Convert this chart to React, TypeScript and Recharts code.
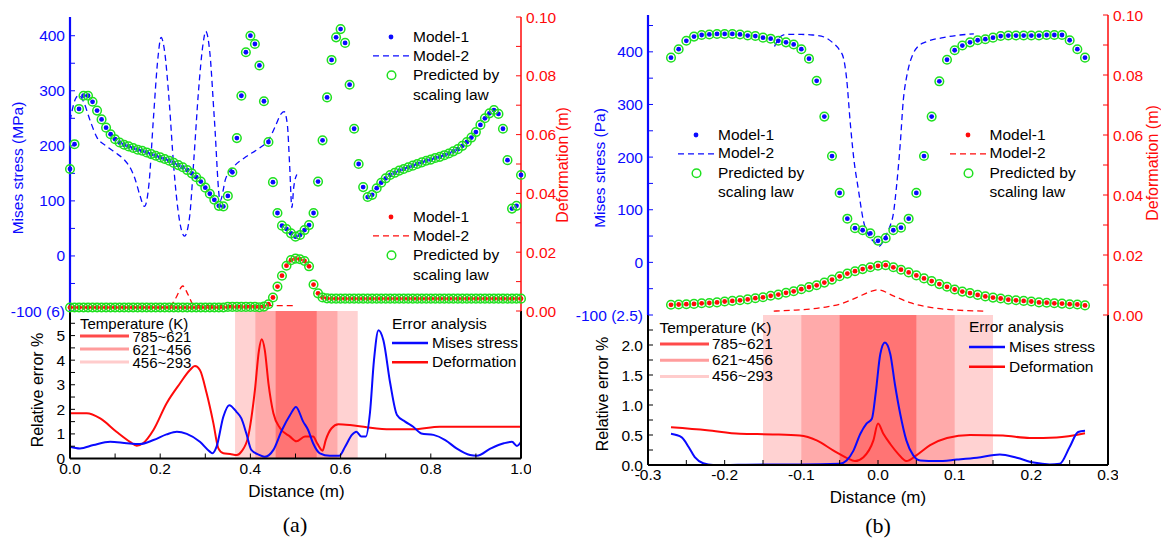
import { ComposedChart, Scatter, Line, XAxis, YAxis, ReferenceArea } from 'recharts'

const FONT = '"Liberation Sans", Arial, Helvetica, sans-serif'
const SERIF = '"Liberation Serif", "Times New Roman", serif'
const BLUE = '#0a0aff'
const RED = '#ff0a0a'
const GREEN = '#1fe01f'
const SHADES = ['#ffd2d2', '#ffaaaa', '#ff7474']

// ---- panel (a): distance 0..1 m, model points every 0.01 m
const A_X = Array.from({ length: 101 }, (_, i) => i / 100)
const A_STRESS = [
  158, 203, 267, 291, 291, 280, 264, 248, 233, 221,
  212, 206, 202, 199, 196, 193, 191, 188, 185, 182,
  179, 176, 173, 169, 165, 161, 156, 150, 143, 135,
  124, 113, 102, 91, 90, 109, 152, 214, 291, 370,
  400, 385, 346, 281, 207, 134, 78, 55, 49, 41,
  35, 38, 47, 56, 78, 135, 210, 288, 356, 397,
  412, 387, 311, 231, 167, 125, 107, 111, 123, 133,
  141, 147, 151, 155, 158, 161, 164, 167, 170, 173,
  175, 178, 180, 183, 186, 190, 194, 200, 207, 215,
  225, 238, 250, 259, 265, 258, 231, 174, 86, 91,
  147
]
const A_DEFORM = [
  0.0012, 0.0012, 0.0012, 0.0012, 0.0012, 0.0012, 0.0012, 0.0012, 0.0012, 0.0012,
  0.0012, 0.0012, 0.0012, 0.0012, 0.0012, 0.0012, 0.0012, 0.0012, 0.0012, 0.0012,
  0.0012, 0.0012, 0.0012, 0.0012, 0.0012, 0.0012, 0.0012, 0.0012, 0.0012, 0.0012,
  0.0012, 0.0012, 0.0012, 0.0012, 0.0012, 0.0014, 0.0014, 0.0014, 0.0014, 0.0014,
  0.0014, 0.0014, 0.0013, 0.0015, 0.0023, 0.0046, 0.0083, 0.012, 0.0154, 0.0173,
  0.0178, 0.0176, 0.017, 0.0152, 0.009, 0.006, 0.0046, 0.0043, 0.0042, 0.0042,
  0.0042, 0.0042, 0.0042, 0.0042, 0.0042, 0.0042, 0.0042, 0.0042, 0.0042, 0.0042,
  0.0042, 0.0042, 0.0042, 0.0042, 0.0042, 0.0042, 0.0042, 0.0042, 0.0042, 0.0042,
  0.0042, 0.0042, 0.0042, 0.0042, 0.0042, 0.0042, 0.0042, 0.0042, 0.0042, 0.0042,
  0.0042, 0.0042, 0.0042, 0.0042, 0.0042, 0.0042, 0.0042, 0.0042, 0.0042, 0.0042,
  0.0042
]
const A_M2_STRESS: [number, number][] = [
  [0, 245], [0.012, 285], [0.02, 292], [0.03, 280], [0.045, 245], [0.06, 215],
  [0.08, 200], [0.1, 188], [0.12, 175], [0.135, 158], [0.145, 138], [0.155, 110],
  [0.165, 90], [0.175, 130], [0.185, 250], [0.195, 360], [0.202, 397], [0.21, 370],
  [0.22, 280], [0.23, 162], [0.24, 80], [0.254, 36], [0.265, 70], [0.275, 180],
  [0.285, 300], [0.295, 385], [0.301, 408], [0.31, 370], [0.32, 250], [0.333, 100],
  [0.345, 140], [0.363, 162], [0.39, 180], [0.42, 196], [0.44, 210], [0.455, 235],
  [0.468, 258], [0.475, 262], [0.482, 238], [0.487, 165], [0.492, 88], [0.496, 124],
  [0.503, 148]
]
const A_M2_DEFORM: [number, number][] = [
  [0, 0.0012], [0.2, 0.0012], [0.22, 0.0014], [0.235, 0.0045], [0.25, 0.0085],
  [0.262, 0.0055], [0.275, 0.0019], [0.3, 0.0018], [0.4, 0.0018], [0.5, 0.0018]
]
const A_ERR_STRESS: [number, number][] = [
  [0, 0.48], [0.022, 0.41], [0.052, 0.55], [0.089, 0.68], [0.126, 0.62], [0.155, 0.59],
  [0.185, 0.75], [0.214, 0.98], [0.237, 1.09], [0.259, 1.0], [0.288, 0.68], [0.31, 0.28],
  [0.316, 0.21], [0.325, 0.48], [0.34, 1.7], [0.353, 2.17], [0.369, 1.9], [0.38, 1.63],
  [0.391, 1.02], [0.402, 0.35], [0.421, 0.14], [0.432, 0.07], [0.451, 0.35], [0.47, 1.16],
  [0.488, 1.77], [0.501, 2.1], [0.517, 1.5], [0.528, 1.16], [0.539, 0.62], [0.554, 0.21],
  [0.576, 0.11], [0.597, 0.11], [0.61, 0.48], [0.625, 0.96], [0.635, 1.09], [0.646, 0.89],
  [0.656, 0.89], [0.665, 1.84], [0.674, 4.0], [0.684, 5.22], [0.695, 4.8], [0.71, 3.06],
  [0.725, 1.77], [0.743, 1.5], [0.761, 1.29], [0.779, 1.02], [0.806, 0.96], [0.832, 0.75],
  [0.857, 0.41], [0.887, 0.14], [0.902, 0.11], [0.933, 0.41], [0.962, 0.62], [0.98, 0.68],
  [0.991, 0.51], [1.0, 0.68]
]
const A_ERR_DEFORM: [number, number][] = [
  [0, 1.84], [0.037, 1.84], [0.067, 1.63], [0.103, 1.09], [0.133, 0.68], [0.148, 0.52],
  [0.162, 0.62], [0.185, 1.16], [0.214, 2.24], [0.244, 3.06], [0.266, 3.6], [0.277, 3.76],
  [0.288, 3.6], [0.303, 2.65], [0.318, 1.43], [0.329, 0.41], [0.34, 0.21], [0.355, 0.18],
  [0.37, 0.14], [0.38, 0.28], [0.395, 0.89], [0.41, 2.78], [0.419, 4.4], [0.425, 4.85],
  [0.432, 4.4], [0.44, 3.06], [0.451, 1.84], [0.466, 1.23], [0.488, 0.89], [0.502, 0.7],
  [0.521, 0.89], [0.539, 0.89], [0.548, 0.62], [0.56, 0.32], [0.567, 0.75], [0.58, 1.23],
  [0.595, 1.39], [0.621, 1.36], [0.658, 1.27], [0.71, 1.19], [0.761, 1.19], [0.82, 1.29],
  [0.894, 1.29], [1.0, 1.29]
]
const A_BANDS: [number, number][] = [[0.366, 0.638], [0.411, 0.593], [0.456, 0.547]]

// ---- panel (b): distance -0.3..0.3 m, model points every 0.01 m
const B_X = Array.from({ length: 55 }, (_, i) => (i - 27) / 100)
const B_STRESS = [
  389, 405, 421, 429, 432, 433, 434, 434, 434, 433,
  431, 430, 427, 425, 421, 418, 414, 405, 387, 345,
  277, 202, 132, 83, 65, 61, 55, 41, 46, 61,
  66, 83, 132, 202, 277, 344, 385, 403, 412, 418,
  422, 424, 427, 430, 431, 431, 431, 431, 431, 432,
  432, 432, 422, 405, 389
]
const B_DEFORM = [
  0.0034, 0.0035, 0.0036, 0.0037, 0.0039, 0.004, 0.0042, 0.0045, 0.0047, 0.0049,
  0.0052, 0.0056, 0.0059, 0.0064, 0.0068, 0.0074, 0.0079, 0.0086, 0.0093, 0.0099,
  0.0108, 0.0118, 0.0129, 0.0138, 0.0146, 0.0153, 0.0159, 0.0164, 0.0166, 0.0159,
  0.0151, 0.0142, 0.0132, 0.0122, 0.0113, 0.0103, 0.0094, 0.0085, 0.0078, 0.0073,
  0.0067, 0.0062, 0.0058, 0.0055, 0.0051, 0.0049, 0.0047, 0.0045, 0.0042, 0.0041,
  0.0039, 0.0038, 0.0036, 0.0035, 0.0032
]
const B_M2_STRESS: [number, number][] = [
  [-0.135, 410], [-0.128, 428], [-0.12, 433], [-0.1, 433], [-0.085, 432], [-0.07, 428],
  [-0.058, 416], [-0.05, 403], [-0.045, 388], [-0.041, 350], [-0.036, 262], [-0.031, 190],
  [-0.026, 142], [-0.019, 79], [-0.01, 47], [-0.004, 38], [0.002, 31], [0.006, 38],
  [0.011, 53], [0.016, 70], [0.02, 92], [0.024, 142], [0.029, 225], [0.033, 308],
  [0.037, 350], [0.04, 371], [0.046, 397], [0.052, 410], [0.063, 419], [0.085, 427],
  [0.107, 432], [0.125, 434]
]
const B_M2_DEFORM: [number, number][] = [
  [-0.136, 0.0013], [-0.11, 0.0016], [-0.084, 0.0021], [-0.065, 0.0028], [-0.05, 0.0036],
  [-0.028, 0.0058], [-0.01, 0.0078], [0, 0.0084], [0.02, 0.0064], [0.042, 0.0041],
  [0.063, 0.0028], [0.098, 0.0017], [0.14, 0.0013]
]
const B_ERR_STRESS: [number, number][] = [
  [-0.27, 0.52], [-0.256, 0.46], [-0.247, 0.3], [-0.239, 0.13], [-0.228, 0.03], [-0.215, 0.0],
  [-0.15, 0.01], [-0.1, 0.01], [-0.05, 0.02], [-0.041, 0.075], [-0.032, 0.24], [-0.023, 0.52],
  [-0.015, 0.69], [-0.008, 0.77], [-0.003, 1.2], [0.003, 1.85], [0.009, 2.04], [0.016, 1.85],
  [0.022, 1.35], [0.029, 0.85], [0.037, 0.41], [0.046, 0.16], [0.055, 0.075], [0.077, 0.065],
  [0.103, 0.09], [0.129, 0.12], [0.159, 0.175], [0.181, 0.12], [0.203, 0.04], [0.224, 0.01],
  [0.237, 0.02], [0.25, 0.3], [0.261, 0.55], [0.27, 0.57]
]
const B_ERR_DEFORM: [number, number][] = [
  [-0.27, 0.63], [-0.223, 0.58], [-0.18, 0.52], [-0.137, 0.51], [-0.102, 0.49], [-0.08, 0.41],
  [-0.058, 0.24], [-0.041, 0.12], [-0.03, 0.065], [-0.019, 0.13], [-0.006, 0.41], [0, 0.69],
  [0.007, 0.52], [0.016, 0.35], [0.026, 0.19], [0.037, 0.065], [0.05, 0.16], [0.068, 0.33],
  [0.09, 0.45], [0.12, 0.5], [0.163, 0.49], [0.198, 0.45], [0.233, 0.46], [0.27, 0.53]
]
const B_BANDS: [number, number][] = [[-0.15, 0.15], [-0.1, 0.1], [-0.05, 0.05]]

// ---- ticks
const A_XTICKS = [0, 0.1, 0.2, 0.3, 0.4, 0.5, 0.6, 0.7, 0.8, 0.9, 1.0]
const B_XTICKS = [-0.3, -0.25, -0.2, -0.15, -0.1, -0.05, 0, 0.05, 0.1, 0.15, 0.2, 0.25, 0.3]
const STRESS_TICKS = [-100, -50, 0, 50, 100, 150, 200, 250, 300, 350, 400, 450]
const DEFORM_TICKS = [0, 0.01, 0.02, 0.03, 0.04, 0.05, 0.06, 0.07, 0.08, 0.09, 0.1]
const A_ERR_TICKS = [0, 0.5, 1, 1.5, 2, 2.5, 3, 3.5, 4, 4.5, 5, 5.5]
const B_ERR_TICKS = [0, 0.25, 0.5, 0.75, 1, 1.25, 1.5, 1.75, 2, 2.25]

const TICK_FS = 15.5

type Pt = { x: number; y: number }
const zip = (xs: number[], ys: number[]): Pt[] => xs.map((x, i) => ({ x, y: ys[i] }))
const toPts = (a: [number, number][]): Pt[] => a.map(([x, y]) => ({ x, y }))

const ring = (p: any) => (
  <circle cx={p.cx} cy={p.cy} r={4.3} fill="none" stroke={GREEN} strokeWidth={1.5} />
)
const dotOf = (c: string) => (p: any) => <circle cx={p.cx} cy={p.cy} r={2.4} fill={c} />

const deformFmt = (v: number) => (Math.round(v * 100) % 2 === 0 ? v.toFixed(2) : '')

function TopPlot(props: any) {
  const { left, top, w, h, xDomain, xTicks, sDomain, sFmt, stress, deform, m2s, m2d } = props
  const LW = props.lw ?? 70
  const RW = 60
  const PAD = 10
  const BOT = 16
  return (
    <div style={{ position: 'absolute', left: left - LW, top: top - PAD }}>
      <ComposedChart width={LW + w + RW} height={h + PAD + BOT} margin={{ top: PAD, right: 0, bottom: BOT, left: 0 }}>
        <XAxis xAxisId="b" type="number" dataKey="x" domain={xDomain} hide />
        <XAxis
          xAxisId="t" orientation="top" type="number" dataKey="x" domain={xDomain}
          ticks={xTicks} interval={0} height={0} tick={false} tickSize={-5}
          axisLine={{ stroke: '#000', strokeWidth: 1.5 }} tickLine={{ stroke: '#000' }}
        />
        <YAxis
          yAxisId="s" type="number" dataKey="y" domain={sDomain} ticks={STRESS_TICKS.filter(t => t <= sDomain[1])}
          interval={0} width={LW} tickFormatter={sFmt} tickSize={-5} tickMargin={10}
          axisLine={{ stroke: BLUE, strokeWidth: 2.2 }} tickLine={{ stroke: BLUE }}
          tick={{ fill: BLUE, fontSize: TICK_FS }}
        />
        <YAxis
          yAxisId="d" orientation="right" type="number" dataKey="y" domain={[0, 0.1]}
          ticks={DEFORM_TICKS} interval={0} width={RW} tickFormatter={deformFmt}
          tickSize={-5} tickMargin={10} axisLine={{ stroke: RED, strokeWidth: 1.5 }}
          tickLine={{ stroke: RED }} tick={{ fill: RED, fontSize: TICK_FS }}
        />
        <Line xAxisId="t" yAxisId="d" data={m2d} dataKey="y" type="monotone" stroke={RED}
          strokeWidth={1.3} strokeDasharray="6 4" dot={false} isAnimationActive={false} />
        <Scatter xAxisId="b" yAxisId="d" data={deform} shape={dotOf(RED)} isAnimationActive={false} />
        <Scatter xAxisId="b" yAxisId="d" data={deform} shape={ring} isAnimationActive={false} />
        <Line xAxisId="t" yAxisId="s" data={m2s} dataKey="y" type="monotone" stroke={BLUE}
          strokeWidth={1.3} strokeDasharray="6 4" dot={false} isAnimationActive={false} />
        <Scatter xAxisId="b" yAxisId="s" data={stress} shape={dotOf(BLUE)} isAnimationActive={false} />
        <Scatter xAxisId="b" yAxisId="s" data={stress} shape={ring} isAnimationActive={false} />
      </ComposedChart>
    </div>
  )
}

function ErrPlot(props: any) {
  const { left, top, w, h, xDomain, xTicks, xFmt, yDomain, yTicks, yFmt, bands, errS, errD } = props
  const LW = 70
  const RW = 10
  const BH = 32
  const frame = { stroke: '#000', strokeWidth: 2 }
  return (
    <div style={{ position: 'absolute', left: left - LW, top }}>
      <ComposedChart width={LW + w + RW} height={h + BH} margin={{ top: 0, right: 0, bottom: 0, left: 0 }}>
        <XAxis
          xAxisId="b" type="number" dataKey="x" domain={xDomain} ticks={xTicks} interval={0}
          tickFormatter={xFmt} height={BH} tickSize={-5} tickMargin={9} axisLine={frame}
          tickLine={{ stroke: '#000' }} tick={{ fill: '#000', fontSize: TICK_FS }}
        />
        <XAxis
          xAxisId="t" orientation="top" type="number" dataKey="x" domain={xDomain} ticks={xTicks}
          interval={0} height={0} tick={false} tickSize={-5} axisLine={frame} tickLine={{ stroke: '#000' }}
        />
        <YAxis
          yAxisId="l" type="number" dataKey="y" domain={yDomain} ticks={yTicks} interval={0}
          width={LW} tickFormatter={yFmt} tickSize={-5} tickMargin={10} axisLine={frame}
          tickLine={{ stroke: '#000' }} tick={{ fill: '#000', fontSize: TICK_FS }}
        />
        <YAxis
          yAxisId="r" orientation="right" type="number" dataKey="y" domain={yDomain} ticks={yTicks}
          interval={0} width={RW} tick={false} tickSize={-5} axisLine={frame} tickLine={{ stroke: '#000' }}
        />
        {bands.map(([a, b]: [number, number], i: number) => (
          <ReferenceArea key={i} xAxisId="b" yAxisId="l" x1={a} x2={b} y1={yDomain[0]} y2={yDomain[1]}
            fill={SHADES[i]} fillOpacity={1} stroke="none" />
        ))}
        <Line xAxisId="t" yAxisId="r" data={errD} dataKey="y" type="monotone" stroke={RED}
          strokeWidth={2} dot={false} isAnimationActive={false} />
        <Line xAxisId="b" yAxisId="l" data={errS} dataKey="y" type="monotone" stroke={BLUE}
          strokeWidth={2} dot={false} isAnimationActive={false} />
      </ComposedChart>
    </div>
  )
}

function Txt({ x, y, text, size = 15.5, color = '#000', center = false, rotate = false, font }: any) {
  const tx = center || rotate ? '-50%' : '0'
  return (
    <div
      style={{
        position: 'absolute', left: x, top: y, fontSize: size, color, lineHeight: 1,
        whiteSpace: 'nowrap', fontFamily: font || FONT,
        transform: `translate(${tx}, -50%)${rotate ? ' rotate(-90deg)' : ''}`
      }}
    >
      {text}
    </div>
  )
}

function ModelLegend({ x, y, color }: any) {
  // x: text left, y: first row centre
  const rows = [y, y + 18.8, y + 38.2, y + 57.8]
  return (
    <>
      <svg width={60} height={80} style={{ position: 'absolute', left: x - 50, top: y - 10 }}>
        <circle cx={28} cy={10} r={2.4} fill={color} />
        <line x1={10} x2={46} y1={10 + 18.8} y2={10 + 18.8} stroke={color} strokeWidth={1.3} strokeDasharray="6 4" />
        <circle cx={28.5} cy={10 + 38.2} r={4.3} fill="none" stroke={GREEN} strokeWidth={1.5} />
      </svg>
      <Txt x={x} y={rows[0]} text="Model-1" />
      <Txt x={x} y={rows[1]} text="Model-2" />
      <Txt x={x} y={rows[2]} text="Predicted by" />
      <Txt x={x} y={rows[3]} text="scaling law" />
    </>
  )
}

function TempLegend({ x, y, gap, size }: any) {
  const labels = ['785~621', '621~456', '456~293']
  const cols = ['#ff4a4a', '#ff9c9c', '#ffcccc']
  return (
    <>
      <Txt x={x} y={y} text="Temperature (K)" size={size} />
      <svg width={60} height={3 * gap + 10} style={{ position: 'absolute', left: x, top: y + gap - 5 }}>
        {cols.map((c, i) => (
          <line key={i} x1={0} x2={49} y1={5 + i * gap} y2={5 + i * gap} stroke={c} strokeWidth={3} />
        ))}
      </svg>
      {labels.map((t, i) => (
        <Txt key={t} x={x + 52.5} y={y + gap * (i + 1)} text={t} size={size} />
      ))}
    </>
  )
}

function ErrLegend({ x, y, gap }: any) {
  return (
    <>
      <Txt x={x} y={y} text="Error analysis" />
      <svg width={40} height={2 * gap + 10} style={{ position: 'absolute', left: x, top: y + gap - 5 }}>
        <line x1={0} x2={36} y1={5} y2={5} stroke={BLUE} strokeWidth={2.5} />
        <line x1={0} x2={36} y1={5 + gap} y2={5 + gap} stroke={RED} strokeWidth={2.5} />
      </svg>
      <Txt x={x + 40} y={y + gap} text="Mises stress" />
      <Txt x={x + 40} y={y + 2 * gap} text="Deformation" />
    </>
  )
}

export default function App() {
  const aStress = zip(A_X, A_STRESS)
  const aDeform = zip(A_X, A_DEFORM)
  const bStress = zip(B_X, B_STRESS)
  const bDeform = zip(B_X, B_DEFORM)
  return (
    <div
      style={{
        position: 'absolute', left: 0, top: 0, width: 1161, height: 539, background: '#fff',
        overflow: 'hidden', fontFamily: FONT
      }}
    >
      {/* bottom error plots first, so the top plots' edge labels sit above them */}
      <ErrPlot
        left={70} top={311} w={451} h={147.5} xDomain={[0, 1]} xTicks={A_XTICKS}
        xFmt={(v: number) => (Math.round(v * 10) % 2 === 0 ? v.toFixed(1) : '')}
        yDomain={[0, 6]} yTicks={A_ERR_TICKS}
        yFmt={(v: number) => (Number.isInteger(v) ? String(v) : '')}
        bands={A_BANDS} errS={toPts(A_ERR_STRESS)} errD={toPts(A_ERR_DEFORM)}
      />
      <ErrPlot
        left={648} top={314.5} w={460} h={150} xDomain={[-0.3, 0.3]} xTicks={B_XTICKS}
        xFmt={(v: number) => (Math.round(v * 100) % 10 === 0 ? v.toFixed(1) : '')}
        yDomain={[0, 2.5]} yTicks={B_ERR_TICKS}
        yFmt={(v: number) => (Math.round(v * 100) % 50 === 0 ? v.toFixed(1) : '')}
        bands={B_BANDS} errS={toPts(B_ERR_STRESS)} errD={toPts(B_ERR_DEFORM)}
      />
      <TopPlot
        left={70} top={17} w={451} h={294} xDomain={[0, 1]} xTicks={A_XTICKS}
        sDomain={[-100, 434]} sFmt={(v: number) => (v === -100 ? '-100 (6)' : v % 100 === 0 ? String(v) : '')}
        stress={aStress} deform={aDeform} m2s={toPts(A_M2_STRESS)} m2d={toPts(A_M2_DEFORM)}
      />
      <TopPlot
        left={648} top={14.5} w={460} h={300} lw={80} xDomain={[-0.3, 0.3]} xTicks={B_XTICKS}
        sDomain={[-100, 470]} sFmt={(v: number) => (v === -100 ? '-100 (2.5)' : v % 100 === 0 ? String(v) : '')}
        stress={bStress} deform={bDeform} m2s={toPts(B_M2_STRESS)} m2d={toPts(B_M2_DEFORM)}
      />

      {/* axis titles */}
      <Txt x={18} y={168} text="Mises stress (MPa)" color={BLUE} rotate size={15.5} />
      <Txt x={563} y={165} text="Deformation (m)" color={RED} rotate size={16} />
      <Txt x={38} y={390} text="Relative error %" rotate size={16} />
      <Txt x={296.5} y={490.5} text="Distance (m)" center size={17} />
      <Txt x={600} y={168} text="Mises stress (Pa)" color={BLUE} rotate size={15.5} />
      <Txt x={1153} y={163} text="Deformation (m)" color={RED} rotate size={16} />
      <Txt x={603} y={394} text="Relative error %" rotate size={16} />
      <Txt x={878} y={496.5} text="Distance (m)" center size={17} />
      <Txt x={295} y={525} text="(a)" center size={22} font={SERIF} />
      <Txt x={878} y={526} text="(b)" center size={22} font={SERIF} />

      {/* legends */}
      <ModelLegend x={413} y={37} color={BLUE} />
      <ModelLegend x={413} y={217} color={RED} />
      <ModelLegend x={718} y={134.5} color={BLUE} />
      <ModelLegend x={989.5} y={134.5} color={RED} />
      <TempLegend x={80} y={323} gap={13} size={15} />
      <ErrLegend x={392} y={323.5} gap={19.2} />
      <TempLegend x={659.5} y={327.5} gap={16.2} size={15.5} />
      <ErrLegend x={969} y={327} gap={19.8} />
    </div>
  )
}
